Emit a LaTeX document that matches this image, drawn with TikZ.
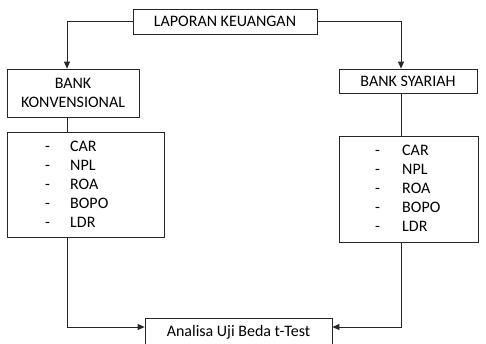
\documentclass[tikz,border=0pt]{standalone}
\usepackage{fontspec}
\setmainfont{Carlito}
\usetikzlibrary{arrows.meta,positioning,calc}
\tikzset{
	box/.style={
		rectangle,
		draw=black!85,
		line width=0.8pt,
		fill=white,
		inner sep=0pt,
		align=center,
		font=\fontsize{16}{19}\selectfont,
	},
	link/.style={
		-{Triangle[length=7pt,width=6pt]},
		draw=black!85,
		line width=0.8pt,
	},
	line/.style={
		draw=black!85,
		line width=0.8pt,
	},
	item/.style={
		anchor=base west,
		inner sep=0pt,
		font=\fontsize{16}{19}\selectfont,
	},
}

\begin{document}
\begin{tikzpicture}[x=1pt,y=-1pt]
	\useasboundingbox (0,0) rectangle (486,343);
	\node[box,minimum width=184pt,minimum height=25pt] (laporan) at (225,21.5) {LAPORAN KEUANGAN};
	\node[box,minimum width=132pt,minimum height=48pt] (konv) at (73,93) {BANK\\KONVENSIONAL};
	\node[box,minimum width=138pt,minimum height=24pt] (syariah) at (408,81) {BANK SYARIAH};
	\node[box,minimum width=157pt,minimum height=105pt] (listkonv) at (85.5,184.5) {};
	\node[box,minimum width=139pt,minimum height=106pt] (listsyar) at (408.5,189) {};
	\node[box,minimum width=187pt,minimum height=28pt] (analisa) at (238.5,332) {Analisa Uji Beda t-Test};

	\coordinate (lx) at (67,0);
	\coordinate (rx) at (401,0);

	% indikator
	\foreach \txt [count=\i] in {CAR,NPL,ROA,BOPO,LDR} {
		\node[item] (kd\i) at (45,{151.5+19*(\i-1)}) {-};
		\node[item] (kt\i) at (70,{151.5+19*(\i-1)}) {\txt};
		\node[item] (sd\i) at (375,{155.5+19*(\i-1)}) {-};
		\node[item] (st\i) at (402,{155.5+19*(\i-1)}) {\txt};
	}

	\draw[link] (laporan.west) -| (konv.north -| lx);
	\draw[link] (laporan.east) -| (syariah.north -| rx);
	\draw[line] (konv.south -| lx) -- (listkonv.north -| lx);
	\draw[line] (syariah.south -| rx) -- (listsyar.north -| rx);
	\draw[link] (listkonv.south -| lx) |- ([yshift=5pt]analisa.west);
	\draw[link] (listsyar.south -| rx) |- ([yshift=5pt]analisa.east);
\end{tikzpicture}
\end{document}
